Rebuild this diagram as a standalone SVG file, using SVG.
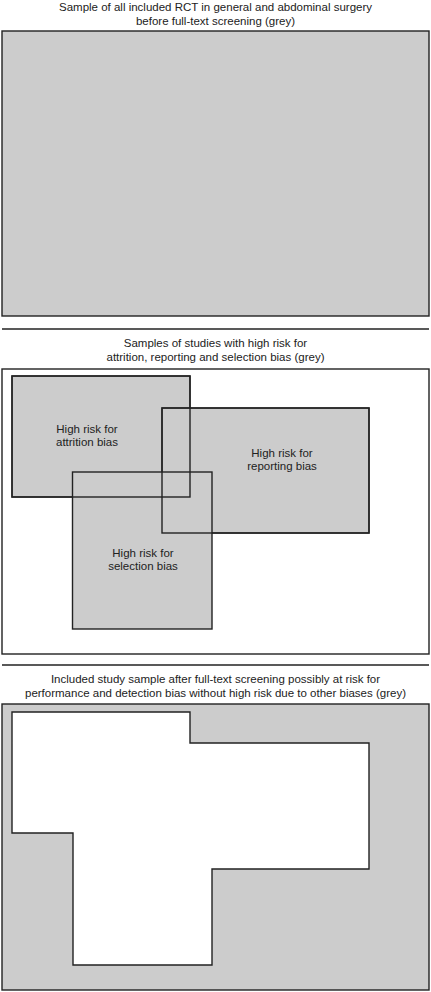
<svg xmlns="http://www.w3.org/2000/svg" width="431" height="992" viewBox="0 0 431 992">
<style>
.t{font-family:"Liberation Sans",Arial,sans-serif;font-size:11.5px;fill:#222;text-anchor:middle}
.g{fill:#cccccc;stroke:#222;stroke-width:1.4}
.w{fill:#fff;stroke:#222;stroke-width:1.4}
.s{stroke:#222;stroke-width:1.4;fill:none}
.o{fill:none;stroke:#222;stroke-width:1.4}
</style>
<rect width="431" height="992" fill="#fff"/>
<g id="panel1">
<text class="t" x="215.5" y="11">Sample of all included RCT in general and abdominal surgery</text>
<text class="t" x="215.5" y="25">before full-text screening (grey)</text>
<rect id="all" class="g" x="2" y="31" width="427" height="285"/>
</g>
<g id="connectors">
<line class="s" x1="2" y1="329" x2="429" y2="329"/>
<line class="s" x1="2" y1="665" x2="429" y2="665"/>
</g>
<g id="panel2">
<text class="t" x="215.5" y="347">Samples of studies with high risk for</text>
<text class="t" x="215.5" y="361">attrition, reporting and selection bias (grey)</text>
<rect class="w" x="2" y="369" width="427" height="285"/>
<g id="attrition">
<rect class="g" x="12" y="376" width="178" height="121"/>
</g>
<g id="reporting">
<rect class="g" x="162" y="408" width="207" height="125"/>
</g>
<g id="selection">
<rect class="g" x="72.5" y="472" width="139.5" height="157"/>
</g>
<rect class="o" x="12" y="376" width="178" height="121"/>
<rect class="o" x="162" y="408" width="207" height="125"/>
<text class="t" x="87" y="433">High risk for</text>
<text class="t" x="87" y="446">attrition bias</text>
<text class="t" x="282" y="457">High risk for</text>
<text class="t" x="282" y="470">reporting bias</text>
<text class="t" x="143" y="557">High risk for</text>
<text class="t" x="143" y="570">selection bias</text>
</g>
<g id="panel3">
<text class="t" x="215.5" y="683">Included study sample after full-text screening possibly at risk for</text>
<text class="t" x="215.5" y="697">performance and detection bias without high risk due to other biases (grey)</text>
<rect class="g" x="2" y="704" width="427" height="286"/>
<path class="w" d="M12 712 H190 V743 H369 V869 H212 V965 H73 V833 H12 Z"/>
</g>
</svg>
